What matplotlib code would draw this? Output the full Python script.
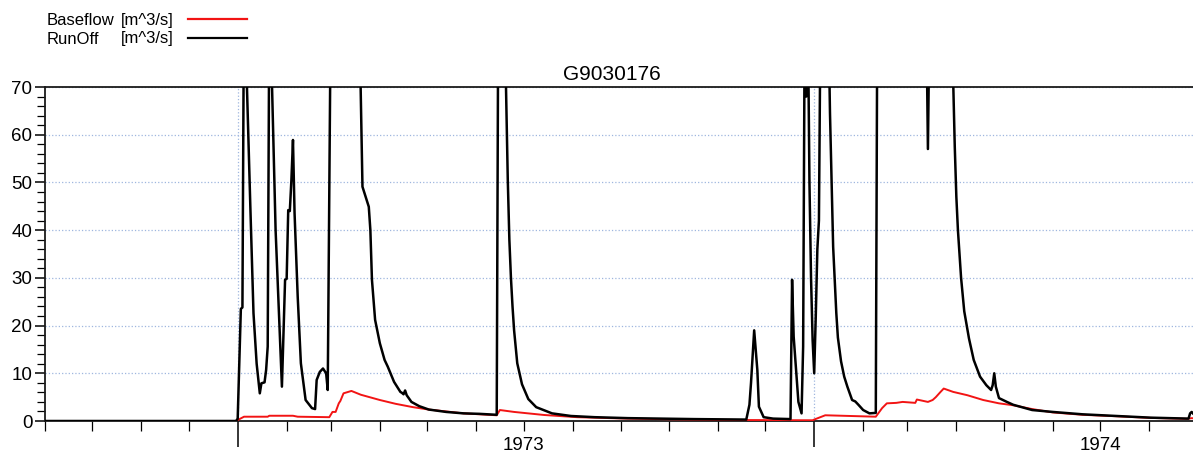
import matplotlib
matplotlib.use("Agg")
import matplotlib.pyplot as plt
import matplotlib.dates as mdates
from matplotlib.lines import Line2D
from matplotlib.ticker import MultipleLocator, NullFormatter, FuncFormatter
import pandas as pd

plt.rcParams['font.family'] = ['Liberation Sans', 'DejaVu Sans']

# ------------------------------------------------------------------
# Data (values above 70 leave the top of the plot)
# ------------------------------------------------------------------
station = "G9030176"
x_start, x_end = "1972-09-01", "1974-09-01"

runoff_dates = [
    "1972-09-01", "1972-12-31", "1973-01-01", "1973-01-03", "1973-01-04",
    "1973-01-05", "1973-01-06", "1973-01-09", "1973-01-11", "1973-01-13",
    "1973-01-15", "1973-01-16", "1973-01-18", "1973-01-19", "1973-01-20",
    "1973-01-21", "1973-01-22", "1973-01-25", "1973-01-29", "1973-01-31",
    "1973-02-01", "1973-02-02", "1973-02-03", "1973-02-04", "1973-02-05",
    "1973-02-06", "1973-02-08", "1973-02-10", "1973-02-13", "1973-02-17",
    "1973-02-19", "1973-02-20", "1973-02-22", "1973-02-24", "1973-02-26",
    "1973-02-27", "1973-03-01", "1973-03-19", "1973-03-21", "1973-03-25",
    "1973-03-26", "1973-03-27", "1973-03-29", "1973-04-01", "1973-04-04",
    "1973-04-06", "1973-04-10", "1973-04-14", "1973-04-15", "1973-04-16",
    "1973-04-17", "1973-04-18", "1973-04-21", "1973-04-26", "1973-05-02",
    "1973-05-13", "1973-05-24", "1973-06-03", "1973-06-14", "1973-06-15",
    "1973-06-19", "1973-06-21", "1973-06-22", "1973-06-23", "1973-06-24",
    "1973-06-25", "1973-06-27", "1973-06-30", "1973-07-04", "1973-07-09",
    "1973-07-19", "1973-07-31", "1973-08-15", "1973-09-05", "1973-09-26",
    "1973-10-17", "1973-11-07", "1973-11-19", "1973-11-21", "1973-11-22",
    "1973-11-24", "1973-11-26", "1973-11-27", "1973-11-30", "1973-12-06",
    "1973-12-17", "1973-12-18", "1973-12-19", "1973-12-21", "1973-12-22",
    "1973-12-24", "1973-12-25", "1973-12-26", "1973-12-27", "1973-12-28",
    "1973-12-29", "1973-12-30", "1973-12-31", "1974-01-01", "1974-01-02",
    "1974-01-03", "1974-01-04", "1974-01-05", "1974-01-10", "1974-01-11",
    "1974-01-12", "1974-01-13", "1974-01-15", "1974-01-16", "1974-01-18",
    "1974-01-20", "1974-01-22", "1974-01-25", "1974-01-27", "1974-01-29",
    "1974-02-01", "1974-02-05", "1974-02-09", "1974-02-10", "1974-03-13",
    "1974-03-14", "1974-03-15", "1974-03-29", "1974-03-31", "1974-04-01",
    "1974-04-02", "1974-04-04", "1974-04-06", "1974-04-09", "1974-04-12",
    "1974-04-16", "1974-04-20", "1974-04-23", "1974-04-24", "1974-04-25",
    "1974-04-26", "1974-04-28", "1974-05-03", "1974-05-07", "1974-05-19",
    "1974-06-01", "1974-06-20", "1974-07-11", "1974-08-02", "1974-08-25",
    "1974-08-26", "1974-08-27", "1974-08-28", "1974-08-29", "1974-08-31",
]
runoff_vals = [
    0, 0, 0.5, 23.5, 23.8,
    90, 80, 45, 22.6, 12,
    5.8, 7.9, 8.1, 10.7, 15.6,
    85, 80, 40, 7.2, 29.6,
    29.8, 44.2, 44.0, 50.5, 58.9,
    43.6, 26, 12.1, 4.4, 2.7,
    2.5, 8.6, 10.3, 11.0, 10.0,
    6.5, 90, 85, 49.1, 44.9,
    40, 29.6, 21.2, 16.3, 12.8,
    11.4, 8.2, 6.1, 5.9, 5.6,
    6.4, 5.4, 4.0, 3.1, 2.4,
    1.9, 1.6, 1.5, 1.3, 90,
    85, 50.5, 38, 30, 24,
    19, 12.1, 7.7, 4.6, 2.9,
    1.6, 1.05, 0.8, 0.6, 0.5,
    0.4, 0.35, 0.3, 3.4, 8,
    19, 10.7, 3.0, 0.8, 0.5,
    0.4, 29.6, 17.7, 8.6, 4.0,
    1.6, 15.6, 85, 68, 85,
    50, 30, 17, 10, 22,
    36, 42, 85, 85, 64.5,
    50, 36.5, 22.6, 17.5, 12.5,
    9.3, 7.2, 4.4, 4.1, 3.4,
    2.3, 1.6, 1.7, 90, 85,
    57, 85, 85, 57.5, 47,
    40, 30, 23, 17.3, 12.8,
    9.3, 7.5, 6.5, 7.5, 10,
    7.2, 4.8, 4.0, 3.4, 2.3,
    1.9, 1.4, 1.05, 0.7, 0.5,
    0.5, 1.6, 1.9, 1.5, 1.2,
]

baseflow_dates = [
    "1972-09-01", "1972-12-31", "1973-01-01", "1973-01-05", "1973-01-20",
    "1973-01-21", "1973-02-05", "1973-02-08", "1973-02-28", "1973-03-02",
    "1973-03-04", "1973-03-06", "1973-03-07", "1973-03-09", "1973-03-14",
    "1973-03-20", "1973-04-01", "1973-04-11", "1973-04-22", "1973-05-02",
    "1973-05-24", "1973-06-14", "1973-06-16", "1973-06-25", "1973-07-14",
    "1973-08-04", "1973-09-05", "1973-10-15", "1973-11-20", "1973-12-31",
    "1974-01-01", "1974-01-08", "1974-02-09", "1974-02-13", "1974-02-16",
    "1974-02-22", "1974-02-26", "1974-03-06", "1974-03-07", "1974-03-14",
    "1974-03-17", "1974-03-19", "1974-03-22", "1974-03-24", "1974-03-30",
    "1974-04-08", "1974-04-18", "1974-04-28", "1974-05-07", "1974-05-19",
    "1974-06-01", "1974-06-20", "1974-07-11", "1974-08-02", "1974-08-25",
    "1974-08-28", "1974-08-31",
]
baseflow_vals = [
    0, 0, 0.2, 0.9, 0.9,
    1.1, 1.1, 0.9, 0.8, 1.9,
    1.9, 3.7, 4.2, 5.8, 6.3,
    5.5, 4.4, 3.6, 2.9, 2.4,
    1.6, 1.2, 2.3, 1.9, 1.26,
    0.8, 0.5, 0.3, 0.2, 0.15,
    0.3, 1.2, 0.9, 2.7, 3.7,
    3.8, 4.0, 3.8, 4.5, 4.0,
    4.4, 5.0, 6.1, 6.8, 6.1,
    5.4, 4.4, 3.7, 3.3, 2.5,
    1.8, 1.3, 1.0, 0.65, 0.45,
    0.6, 0.5,
]

# ------------------------------------------------------------------
# Figure
# ------------------------------------------------------------------
W, H = 1193, 457
fig = plt.figure(figsize=(W / 100, H / 100), dpi=100)
ax = fig.add_axes([45 / W, 36 / H, 1153 / W, 334 / H])

ax.plot(pd.to_datetime(baseflow_dates), baseflow_vals, color='#f21414', lw=1.4, zorder=3)
ax.plot(pd.to_datetime(runoff_dates), runoff_vals, color='black', lw=1.8, zorder=4)

ax.set_xlim(pd.Timestamp(x_start), pd.Timestamp(x_end))
ax.set_ylim(0, 70)

# y axis
ax.yaxis.set_major_locator(MultipleLocator(10))
ax.yaxis.set_minor_locator(MultipleLocator(2))
ax.tick_params(axis='y', which='major', length=7, width=1.1, pad=2, labelsize=13.5)
ax.tick_params(axis='y', which='minor', length=6, width=0.9)

# x axis: long ticks at year starts, short monthly ticks, year label mid-year
ax.xaxis.set_major_locator(mdates.YearLocator())
ax.xaxis.set_major_formatter(NullFormatter())
ax.xaxis.set_minor_locator(mdates.MonthLocator())


def year_label(x, pos):
    d = mdates.num2date(x)
    return d.strftime('%Y') if d.month == 7 else ''


ax.xaxis.set_minor_formatter(FuncFormatter(year_label))
ax.tick_params(axis='x', which='major', length=19, width=1.1)
ax.tick_params(axis='x', which='minor', length=7.5, width=0.9, pad=4, labelsize=13.5)

ax.grid(which='major', axis='both', linestyle=':', color='#9fb6df', lw=0.9)
for s in ax.spines.values():
    s.set_linewidth(1.3)
    s.set_color('#1a1a1a')
ax.spines['right'].set_visible(False)

fig.text(612 / W, 1 - 80 / H, station, ha='center', va='baseline', fontsize=15)

# legend, drawn in the top-left corner
rows = [("Baseflow", '#f21414', 25, 18.7), ("RunOff", 'black', 43.5, 37.7)]
for name, col, base_y, line_y in rows:
    fig.text(47 / W, 1 - base_y / H, name, va='baseline', fontsize=12)
    fig.text(121 / W, 1 - base_y / H, "[m^3/s]", va='baseline', fontsize=12)
    fig.add_artist(Line2D([188 / W, 247 / W], [1 - line_y / H] * 2,
                          transform=fig.transFigure, color=col, lw=1.6))

fig.savefig("out.png", dpi=100)
